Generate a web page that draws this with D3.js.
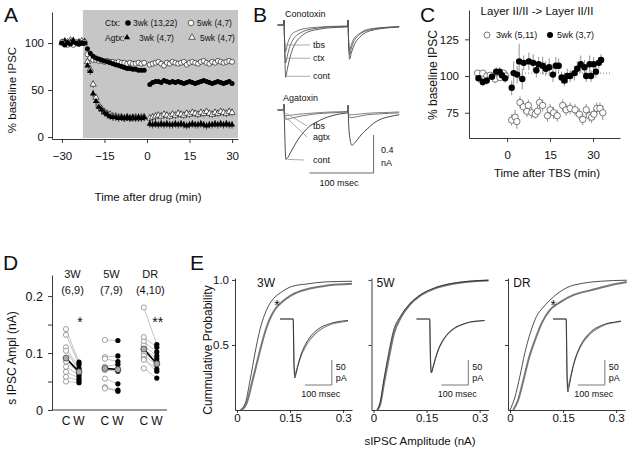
<!DOCTYPE html>
<html><head><meta charset="utf-8">
<script src="https://cdn.jsdelivr.net/npm/d3@7/dist/d3.min.js"></script>
<style>
body{margin:0;background:#fff}
svg{display:block}
text{font-family:"Liberation Sans",Arial,Helvetica,sans-serif;fill:#111}
</style></head><body>
<script>
// ================= DATA =================
// Panel A (% baseline IPSC vs time after drug, min)
const minPre  = [-30,-29,-28,-27,-26,-25,-24,-23,-22,-21,-20,-19,-18,-17,-16,-15,-14,-13,-12,-11,-10,-9,-8,-7,-6,-5,-4,-3,-2,-1];
const minPost = [1,2,3,4,5,6,7,8,9,10,11,12,13,14,15,16,17,18,19,20,21,22,23,24,25,26,27,28,29,30];
const ctx3Pre  = [100,98,100,99,101,100,99,100,100,94,89,86,84,83,82,81,80,79,78,77,76,75,74,73,73,72,72,71,71,71];
const ctx3Post = [56,58,59,59,58,60,59,58,59,58,59,58,57,58,59,58,57,58,59,60,59,58,57,58,59,58,57,58,59,57];
const ctx5Pre  = [101,99,98,100,98,101,99,100,101,88,84,82,82,81,81,80,81,80,80,79,80,79,79,78,79,78,78,79,78,79];
const ctx5Post = [77,78,79,80,78,76,79,78,80,79,78,79,80,77,79,80,79,78,80,81,79,78,80,79,81,80,79,80,81,80];
const ag3Pre   = [101,102,100,101,103,100,101,99,102,76,70,46,38,32,29,26,24,22,21,21,20,21,20,21,20,21,20,21,20,21];
const ag3Post  = [14,13,14,13,14,13,14,13,13,14,13,14,13,12,13,14,13,13,14,13,12,13,13,14,13,14,13,14,13,13];
const ag5Pre   = [100,102,101,103,100,99,101,102,100,80,72,56,42,34,30,27,25,24,22,22,21,21,20,21,20,20,21,20,21,21];
const ag5Post  = [20,21,22,23,22,24,23,22,24,23,25,24,23,25,24,26,25,24,26,25,27,25,24,26,25,27,26,25,27,26];
const semCtx3 = 2, semCtx5 = 2, semAg3 = 4, semAg5 = 4;
const drugStart = -22.6;
const legendA1 = ["Ctx:", "3wk (13,22)", "5wk (4,7)"];
const legendA2 = ["Agtx:", "3wk (4,7)", "5wk (4,7)"];

// Panel B traces (time ms, current nA)
const bTopT   = [-10,-0.5,0,0.6,2.5,5,8,12,18,25,35,50,70,99.4,100,100.6,102.5,105,108,112,118,125,135,150,180];
const bTopCont= [0,0,0.05,-0.1,-0.55,-0.47,-0.38,-0.28,-0.19,-0.13,-0.08,-0.05,-0.03,-0.02,0.05,-0.1,-0.36,-0.3,-0.24,-0.18,-0.13,-0.09,-0.06,-0.04,-0.02];
const bTopCtx = [0,0,0.05,-0.1,-0.4,-0.33,-0.25,-0.18,-0.12,-0.085,-0.055,-0.035,-0.02,-0.015,0.05,-0.1,-0.31,-0.25,-0.19,-0.14,-0.1,-0.07,-0.05,-0.03,-0.02];
const bTopTbs = [0,0,0.05,-0.1,-0.28,-0.21,-0.15,-0.1,-0.07,-0.05,-0.035,-0.025,-0.015,-0.01,0.05,-0.1,-0.27,-0.21,-0.16,-0.12,-0.09,-0.06,-0.04,-0.03,-0.015];
const bBotT   = [-10,-0.5,0,0.6,3,6,10,15,22,30,40,50,62,75,88,99.4,100,100.6,103,106,110,115,122,130,140,150,165,180];
const bBotCont= [0,0,0.06,-0.1,-0.52,-0.5,-0.45,-0.39,-0.31,-0.24,-0.17,-0.13,-0.09,-0.06,-0.04,-0.03,0.05,-0.08,-0.3,-0.37,-0.35,-0.31,-0.25,-0.2,-0.14,-0.1,-0.07,-0.05];
const bBotAgtx= [0,0,0.06,-0.05,-0.1,-0.095,-0.09,-0.08,-0.07,-0.06,-0.05,-0.04,-0.035,-0.03,-0.025,-0.02,0.05,-0.04,-0.08,-0.08,-0.075,-0.07,-0.06,-0.05,-0.045,-0.04,-0.035,-0.03];
const bBotTbs = [0,0,0.06,-0.04,-0.06,-0.058,-0.055,-0.05,-0.045,-0.04,-0.035,-0.03,-0.025,-0.02,-0.018,-0.015,0.05,-0.03,-0.05,-0.05,-0.048,-0.045,-0.04,-0.035,-0.03,-0.028,-0.025,-0.02];
const bTopLabels = ["tbs","ctx","cont"];
const bTopLeadT  = [1.8, 3.5, 2.5];
const bTopLeadI  = [-0.21, -0.35, -0.54];
const bBotLabels = ["tbs","agtx","cont"];
const bBotLeadT  = [2, 2, 6];
const bBotLeadI  = [-0.03, -0.07, -0.52];
const bBotLabI   = [-0.168, -0.284, -0.526];
const barBms = [40, 140], barBnA = [-0.663, -0.263];

// Panel C (time after TBS, % baseline)
const c3T = [-10.3,-8.5,-7.1,-5.9,-4.2,-2.5,-1.2,-0.5,1.6,2.8,3.4,4.5,5.7,6.9,7.4,8.6,9.8,10.6,11.3,12.4,14.1,15,16.2,17.5,19.4,20.6,22,23.7,25.2,26.4,27.6,28.7,29.5,30.3,31.3,32.4,33.4];
const c3V = [102,102,100,100.5,98,99,102,100,70,72,69,82,79,76,80,75,74,76,82,80,73,77,75,73,80,77,78,77,74,70.5,77,73,72,74,78,78,75];
const c3E = [2,2,2,2,3,2,2,2,4,5,5,4,4,4,4,4,3,4,4,4,4,4,4,4,4,4,4,4,4,4,4,4,4,4,4,4,5];
const c5T = [-10,-8.5,-7.1,-5.3,-3.8,-2.6,-1.8,-0.7,1.6,2.3,3.5,4.2,5.3,5.8,7.6,9.1,10.2,11,12.4,13.5,14.7,16,17,18,19,20,21,22,23.5,24.5,25.7,27,27.6,28.8,29.3,30.2,31,32,32.8];
const c5V = [98.5,96,97,99.5,103,103,100.5,98.5,92,102,101,110,98,109,110,109,104,108,107,105,106,101,107,107,99,97,100,100,102,105,108,106,100,108,100,108,103,109,111];
const c5E = [3,3,3,2,3,3,2,3,5,8,6,12,7,5,6,6,5,5,6,5,6,5,6,5,4,4,5,4,5,5,6,5,4,6,4,5,4,4,4];
const cBaseline = 102;
const legendC = ["3wk (5,11)", "5wk (3,7)"];

// Panel D (sIPSC amplitude nA, control vs wash)
const groups = ["3W","5W","DR"];
const groupN = ["(6,9)","(7,9)","(4,10)"];
const groupSig = ["*","","**"];
const d3wC = [0.142,0.132,0.110,0.104,0.085,0.076,0.067,0.058,0.050];
const d3wW = [0.084,0.080,0.073,0.070,0.066,0.061,0.056,0.052,0.048];
const d5wC = [0.123,0.093,0.090,0.076,0.072,0.070,0.055,0.040,0.038];
const d5wW = [0.122,0.095,0.085,0.080,0.072,0.068,0.046,0.035,0.033];
const dDrC = [0.180,0.128,0.120,0.113,0.107,0.100,0.095,0.090,0.088,0.073];
const dDrW = [0.115,0.110,0.102,0.095,0.090,0.085,0.080,0.072,0.068,0.056];
const dMeanC = [0.091,0.073,0.107];
const dMeanW = [0.067,0.071,0.081];

// Panel E cumulative distributions (amplitude nA, probability)
const e3wCa = [0.0085,0.023,0.037,0.051,0.065,0.079,0.093,0.108,0.122,0.155,0.20,0.25,0.325];
const e3wCp = [0,0.05,0.23,0.44,0.62,0.74,0.82,0.87,0.90,0.95,0.97,0.985,0.99];
const e3wWa = [0.013,0.027,0.042,0.056,0.070,0.084,0.098,0.112,0.127,0.155,0.20,0.25,0.325];
const e3wWp = [0,0.05,0.205,0.36,0.51,0.64,0.73,0.79,0.83,0.885,0.93,0.955,0.97];
const e5wCa = [0.01,0.018,0.029,0.043,0.057,0.076,0.104,0.132,0.169,0.225,0.325];
const e5wCp = [0,0.05,0.23,0.44,0.615,0.72,0.82,0.885,0.935,0.975,0.998];
const e5wWa = [0.011,0.019,0.03,0.044,0.058,0.077,0.104,0.132,0.169,0.225,0.325];
const e5wWp = [0,0.045,0.21,0.41,0.59,0.71,0.815,0.88,0.93,0.97,0.995];
const eDrCa = [0.0,0.014,0.028,0.042,0.057,0.075,0.094,0.123,0.16,0.207,0.255,0.33];
const eDrCp = [0,0.10,0.26,0.44,0.59,0.72,0.79,0.87,0.94,0.975,0.99,0.998];
const eDrWa = [0.009,0.023,0.038,0.052,0.071,0.09,0.113,0.142,0.18,0.227,0.283,0.33];
const eDrWp = [0,0.077,0.23,0.385,0.54,0.67,0.77,0.83,0.885,0.92,0.96,0.985];
const eSig = ["*","","*"];
const eSigAmp = [0.113, 0, 0.122];
const eSigP = [0.83, 0, 0.83];
// insets (time ms, pA)
const insT = [-50,-1,0,2,5,10,20,30,45,60,80,100,125,150,180,202];
const ins3wC = [0,0,-30,-95,-118,-108,-86,-68,-50,-37,-25,-17,-11,-7,-4,-3];
const ins3wW = [0,0,-28,-90,-113,-104,-86,-71,-55,-42,-30,-21,-14,-9,-6,-4];
const ins5wC = [0,0,-28,-85,-108,-99,-79,-62,-45,-33,-22,-15,-10,-6,-4,-3];
const ins5wW = [0,0,-28,-85,-107,-99,-80,-63,-46,-34,-23,-16,-10,-6,-4,-3];
const insDrC = [0,0,-35,-115,-146,-134,-106,-84,-61,-45,-31,-21,-14,-9,-6,-4];
const insDrW = [0,0,-33,-108,-138,-128,-104,-84,-63,-48,-34,-24,-16,-10,-7,-5];
const barEms = [42, 142], barEpA = [-132, -82];

// ================= DRAW =================
const FONT = '"Liberation Sans", Arial, Helvetica, sans-serif';
const svg = d3.select("body").append("svg").attr("width",628).attr("height",451);
svg.append("rect").attr("width",628).attr("height",451).attr("fill","#fff");

function addText(g,x,y,s,size,anchor,rot){
  const t=g.append("text").attr("font-size",size).attr("text-anchor",anchor||"start").text(s);
  if(rot) t.attr("transform",`translate(${x},${y}) rotate(-90)`); else t.attr("x",x).attr("y",y);
  return t;
}
function styleAxis(sel,fs){
  sel.attr("font-family",FONT).attr("font-size",fs);
  sel.selectAll("path.domain").attr("stroke","#222").attr("stroke-width",0.9);
  sel.selectAll(".tick line").attr("stroke","#222").attr("stroke-width",0.9);
  sel.selectAll(".tick text").attr("fill","#111");
}
const tri = d3.symbol().type(d3.symbolTriangle).size(17)();

// ---------- Panel A ----------
const gA = svg.append("g");
const xA = d3.scaleLinear().domain([-33.5,32.1]).range([52,238]);
const yA = d3.scaleLinear().domain([-2.1,133]).range([139,12]);
gA.append("rect").attr("x",xA(drugStart)).attr("y",yA.range()[1]-2)
  .attr("width",xA.range()[1]-xA(drugStart)).attr("height",yA.range()[0]-yA.range()[1]+1).attr("fill","#c6c6c6");
styleAxis(gA.append("g").attr("transform","translate(52,0)")
  .call(d3.axisLeft(yA).tickValues([0,50,100]).tickSize(4).tickSizeOuter(0).tickPadding(4)),11.5);
styleAxis(gA.append("g").attr("transform","translate(0,139)")
  .call(d3.axisBottom(xA).tickValues([-30,-15,0,15,30]).tickSize(4).tickSizeOuter(0).tickPadding(9)),11.5);
addText(gA,4,22,"A",21);
addText(gA,16,90,"% baseline IPSC",11.5,"middle",true);
addText(gA,148,201,"Time after drug (min)",11.5,"middle");

function seriesA(pre,post){ return minPre.map((t,i)=>({t,v:pre[i]})).concat(minPost.map((t,i)=>({t,v:post[i]}))); }
const sCtx3=seriesA(ctx3Pre,ctx3Post), sCtx5=seriesA(ctx5Pre,ctx5Post), sAg3=seriesA(ag3Pre,ag3Post), sAg5=seriesA(ag5Pre,ag5Post);
function errA(data,sem,col){
  gA.append("g").selectAll("line").data(data.filter(d=>d.t>-21)).join("line")
    .attr("x1",d=>xA(d.t)).attr("x2",d=>xA(d.t)).attr("y1",d=>yA(d.v-sem)).attr("y2",d=>yA(d.v+sem))
    .attr("stroke",col).attr("stroke-width",0.7);
}
errA(sAg5,semAg5,"#333"); errA(sAg3,semAg3,"#000"); errA(sCtx5,semCtx5,"#333"); errA(sCtx3,semCtx3,"#000");
gA.append("g").selectAll("path").data(sAg5).join("path").attr("d",tri)
  .attr("transform",d=>`translate(${xA(d.t)},${yA(d.v)})`).attr("fill","#fff").attr("stroke","#000").attr("stroke-width",0.6);
gA.append("g").selectAll("path").data(sAg3).join("path").attr("d",tri)
  .attr("transform",d=>`translate(${xA(d.t)},${yA(d.v)})`).attr("fill","#000");
gA.append("g").selectAll("circle").data(sCtx5).join("circle")
  .attr("cx",d=>xA(d.t)).attr("cy",d=>yA(d.v)).attr("r",2.5).attr("fill","#fff").attr("stroke","#000").attr("stroke-width",0.6);
gA.append("g").selectAll("circle").data(sCtx3).join("circle")
  .attr("cx",d=>xA(d.t)).attr("cy",d=>yA(d.v)).attr("r",2.5).attr("fill","#000");
// legend
addText(gA,105,26,legendA1[0],8.5);
gA.append("circle").attr("cx",128).attr("cy",23).attr("r",2.8).attr("fill","#000");
addText(gA,133,26,legendA1[1],8.5);
gA.append("circle").attr("cx",191).attr("cy",23).attr("r",2.8).attr("fill","#fff").attr("stroke","#000").attr("stroke-width",0.6);
addText(gA,197,26,legendA1[2],8.5);
addText(gA,105,41,legendA2[0],8.5);
gA.append("path").attr("d",tri).attr("transform","translate(127,37.5)").attr("fill","#000");
addText(gA,139,41,legendA2[1],8.5);
gA.append("path").attr("d",tri).attr("transform","translate(192,37.5)").attr("fill","#fff").attr("stroke","#000").attr("stroke-width",0.6);
addText(gA,200,41,legendA2[2],8.5);

// ---------- Panel B ----------
const gB = svg.append("g");
const xB = d3.scaleLinear().domain([-10,180]).range([277.6,399.2]);
const yBt = d3.scaleLinear().domain([-0.6,0.1]).range([82,15.5]);
const yBb = d3.scaleLinear().domain([-0.6,0.1]).range([167,100.5]);
addText(gB,253,22,"B",21);
addText(gB,285,17,"Conotoxin",9);
addText(gB,283,101,"Agatoxin",9);
function traceB(T,Y,ys,col,w){
  gB.append("path").datum(Y).attr("fill","none").attr("stroke",col).attr("stroke-width",w)
    .attr("d",d3.line().x((d,i)=>xB(T[i])).y(d=>ys(d)).curve(d3.curveMonotoneX));
}
traceB(bTopT,bTopCont,yBt,"#333",0.8);
traceB(bTopT,bTopCtx,yBt,"#444",0.8);
traceB(bTopT,bTopTbs,yBt,"#555",0.8);
traceB(bBotT,bBotCont,yBb,"#333",0.9);
traceB(bBotT,bBotAgtx,yBb,"#555",0.8);
traceB(bBotT,bBotTbs,yBb,"#666",0.8);
bTopLabels.forEach((s,i)=>{
  gB.append("line").attr("x1",xB(bTopLeadT[i])).attr("x2",310).attr("y1",yBt(bTopLeadI[i])).attr("y2",yBt(bTopLeadI[i]))
    .attr("stroke","#888").attr("stroke-width",0.7);
  addText(gB,313,yBt(bTopLeadI[i])+3,s,9);
});
bBotLabels.forEach((s,i)=>{
  gB.append("line").attr("x1",xB(bBotLeadT[i])).attr("x2",i<2?307:304).attr("y1",yBb(bBotLeadI[i])).attr("y2",yBb(bBotLabI[i]))
    .attr("stroke","#888").attr("stroke-width",0.7);
  addText(gB,313,yBb(bBotLabI[i])+3,s,9);
});
gB.append("path").attr("fill","none").attr("stroke","#444").attr("stroke-width",0.8)
  .attr("d",d3.line()([[xB(barBms[0]),yBb(barBnA[0])],[xB(barBms[1]),yBb(barBnA[0])],[xB(barBms[1]),yBb(barBnA[1])]]));
addText(gB,381,153,"0.4",9);
addText(gB,381,166,"nA",9);
addText(gB,339,186,"100 msec",9,"middle");

// ---------- Panel C ----------
const gC = svg.append("g");
const xC = d3.scaleLinear().domain([-13.3,39.4]).range([469,620]);
const yC = d3.scaleLinear().domain([57.8,145]).range([138,10]);
styleAxis(gC.append("g").attr("transform","translate(469,0)")
  .call(d3.axisLeft(yC).tickValues([75,100,125]).tickSize(4).tickSizeOuter(0).tickPadding(6)),11.5);
styleAxis(gC.append("g").attr("transform","translate(0,138)")
  .call(d3.axisBottom(xC).tickValues([0,15,30]).tickSize(4).tickSizeOuter(0).tickPadding(9)),11.5);
gC.append("line").attr("x1",xC(-10.5)).attr("x2",xC(36.6)).attr("y1",yC(cBaseline)).attr("y2",yC(cBaseline))
  .attr("stroke","#555").attr("stroke-width",0.8).attr("stroke-dasharray","1,2");
addText(gC,420,22,"C",21);
addText(gC,537,15,"Layer II/II -> Layer II/II",11.5,"middle");
addText(gC,437,75,"% baseline IPSC",12,"middle",true);
addText(gC,547,177,"Time after TBS (min)",11.5,"middle");
const sC3=c3T.map((t,i)=>({t,v:c3V[i],e:c3E[i]})), sC5=c5T.map((t,i)=>({t,v:c5V[i],e:c5E[i]}));
[sC3,sC5].forEach(s=>gC.append("g").selectAll("line").data(s).join("line")
  .attr("x1",d=>xC(d.t)).attr("x2",d=>xC(d.t)).attr("y1",d=>yC(d.v-d.e)).attr("y2",d=>yC(d.v+d.e))
  .attr("stroke","#777").attr("stroke-width",0.8));
gC.append("g").selectAll("circle").data(sC3).join("circle").attr("cx",d=>xC(d.t)).attr("cy",d=>yC(d.v)).attr("r",3.2)
  .attr("fill","#fff").attr("stroke","#444").attr("stroke-width",0.7);
gC.append("g").selectAll("circle").data(sC5).join("circle").attr("cx",d=>xC(d.t)).attr("cy",d=>yC(d.v)).attr("r",3.2)
  .attr("fill","#000");
gC.append("circle").attr("cx",487).attr("cy",35).attr("r",3).attr("fill","#fff").attr("stroke","#444").attr("stroke-width",0.7);
addText(gC,496,38,legendC[0],9);
gC.append("circle").attr("cx",550).attr("cy",35).attr("r",3).attr("fill","#000");
addText(gC,557,38,legendC[1],9);

// ---------- Panel D ----------
const gD = svg.append("g");
const yD = d3.scaleLinear().domain([0,0.237]).range([410,275]);
const xDg = d3.scalePoint().domain(groups).range([72.5,150.3]);
const xDc = d3.scalePoint().domain(["C","W"]).range([-6.5,6.5]);
const axD = gD.append("g").attr("transform","translate(52,0)")
  .call(d3.axisLeft(yD).tickValues([0,0.05,0.1,0.15,0.2]).tickFormat(d=>[0,0.1,0.2].includes(d)?(d===0?"0":d3.format(".1f")(d)):"")
  .tickSize(4).tickSizeOuter(0).tickPadding(5));
styleAxis(axD,12.5);
gD.append("line").attr("x1",52).attr("x2",167).attr("y1",410).attr("y2",410).attr("stroke","#222").attr("stroke-width",0.9);
addText(gD,3,270,"D",21);
addText(gD,16,358,"s IPSC Ampl (nA)",12,"middle",true);
const dC=[d3wC,d5wC,dDrC], dW=[d3wW,d5wW,dDrW];
groups.forEach((g,gi)=>{
  const xc=xDg(g)+xDc("C"), xw=xDg(g)+xDc("W");
  addText(gD,xDg(g),278,g,11,"middle");
  addText(gD,xDg(g),294,groupN[gi],11,"middle");
  addText(gD,xc,425,"C",12,"middle");
  addText(gD,xw,425,"W",12,"middle");
  if(groupSig[gi]) addText(gD,xw+1,327,groupSig[gi],14,"middle");
  const gg=gD.append("g");
  gg.selectAll("line").data(dC[gi]).join("line").attr("x1",xc).attr("x2",xw)
    .attr("y1",d=>yD(d)).attr("y2",(d,i)=>yD(dW[gi][i])).attr("stroke","#999").attr("stroke-width",0.6);
  gg.append("line").attr("x1",xc).attr("x2",xw).attr("y1",yD(dMeanC[gi])).attr("y2",yD(dMeanW[gi])).attr("stroke","#000").attr("stroke-width",1.6);
  gg.append("g").selectAll("circle").data(dC[gi]).join("circle").attr("cx",xc).attr("cy",d=>yD(d)).attr("r",2.6)
    .attr("fill","#fff").attr("stroke","#888").attr("stroke-width",0.8);
  gg.append("g").selectAll("circle").data(dW[gi]).join("circle").attr("cx",xw).attr("cy",d=>yD(d)).attr("r",2.6).attr("fill","#000");
  gg.append("circle").attr("cx",xc).attr("cy",yD(dMeanC[gi])).attr("r",3).attr("fill","#aaa").attr("stroke","#333").attr("stroke-width",0.7);
  gg.append("circle").attr("cx",xw).attr("cy",yD(dMeanW[gi])).attr("r",3).attr("fill","#aaa").attr("stroke","#333").attr("stroke-width",0.7);
});

// ---------- Panel E ----------
const gE = svg.append("g");
const xOff = d3.scalePoint().domain(groups).range([235,508]);
const xE = d3.scaleLinear().domain([-0.0057,0.325]).range([0,117]);
const yE = d3.scaleLinear().domain([0,1.015]).range([410,278]);
const xI = d3.scaleLinear().domain([0,100]).range([58.5,85.5]);
const yI = d3.scaleLinear().domain([-150,0]).range([394,319]);
addText(gE,190,270,"E",21);
addText(gE,212,350,"Cummulative Probability",12,"middle",true);
addText(gE,420,445,"sIPSC Amplitude (nA)",11.5,"middle");
const eC=[[e3wCa,e3wCp],[e5wCa,e5wCp],[eDrCa,eDrCp]], eW=[[e3wWa,e3wWp],[e5wWa,e5wWp],[eDrWa,eDrWp]];
const iC=[ins3wC,ins5wC,insDrC], iW=[ins3wW,ins5wW,insDrW];
groups.forEach((g,gi)=>{
  const gp=gE.append("g").attr("transform",`translate(${xOff(g)},0)`);
  styleAxis(gp.append("g").call(d3.axisLeft(yE).tickValues([0.5,1]).tickFormat(gi===0?d3.format(".1f"):()=>"")
    .tickSize(3).tickSizeOuter(0).tickPadding(3)),11.5);
  styleAxis(gp.append("g").attr("transform","translate(0,410)").call(d3.axisBottom(xE).tickValues([0,0.15,0.3])
    .tickFormat(d=>d===0?"0":String(d)).tickSize(3).tickSizeOuter(0).tickPadding(1)),11.5);
  addText(gp,gi===0?31:14,287,g,12,"middle");
  const line=d3.line().x(d=>xE(d[0])).y(d=>yE(d[1])).curve(d3.curveMonotoneX);
  gp.append("path").datum(eW[gi][0].map((a,i)=>[a,eW[gi][1][i]])).attr("d",line).attr("fill","none").attr("stroke","#777").attr("stroke-width",2);
  gp.append("path").datum(eC[gi][0].map((a,i)=>[a,eC[gi][1][i]])).attr("d",line).attr("fill","none").attr("stroke","#222").attr("stroke-width",0.8);
  if(eSig[gi]) addText(gp,xE(eSigAmp[gi]),yE(eSigP[gi])+8,eSig[gi],14,"middle");
  // inset
  const il=d3.line().x((d,i)=>xI(insT[i])).y(d=>yI(d)).curve(d3.curveMonotoneX);
  gp.append("path").datum(iW[gi]).attr("d",il).attr("fill","none").attr("stroke","#888").attr("stroke-width",1.2);
  gp.append("path").datum(iC[gi]).attr("d",il).attr("fill","none").attr("stroke","#222").attr("stroke-width",0.8);
  gp.append("path").attr("fill","none").attr("stroke","#555").attr("stroke-width",0.8)
    .attr("d",d3.line()([[xI(barEms[0]),yI(barEpA[0])],[xI(barEms[1]),yI(barEpA[0])],[xI(barEms[1]),yI(barEpA[1])]]));
  addText(gp,xI(barEms[1])+4,370,"50",9);
  addText(gp,xI(barEms[1])+4,381,"pA",9);
  addText(gp,xI(barEms[1])-11,397,"100 msec",9,"middle");
});
</script></body></html>
